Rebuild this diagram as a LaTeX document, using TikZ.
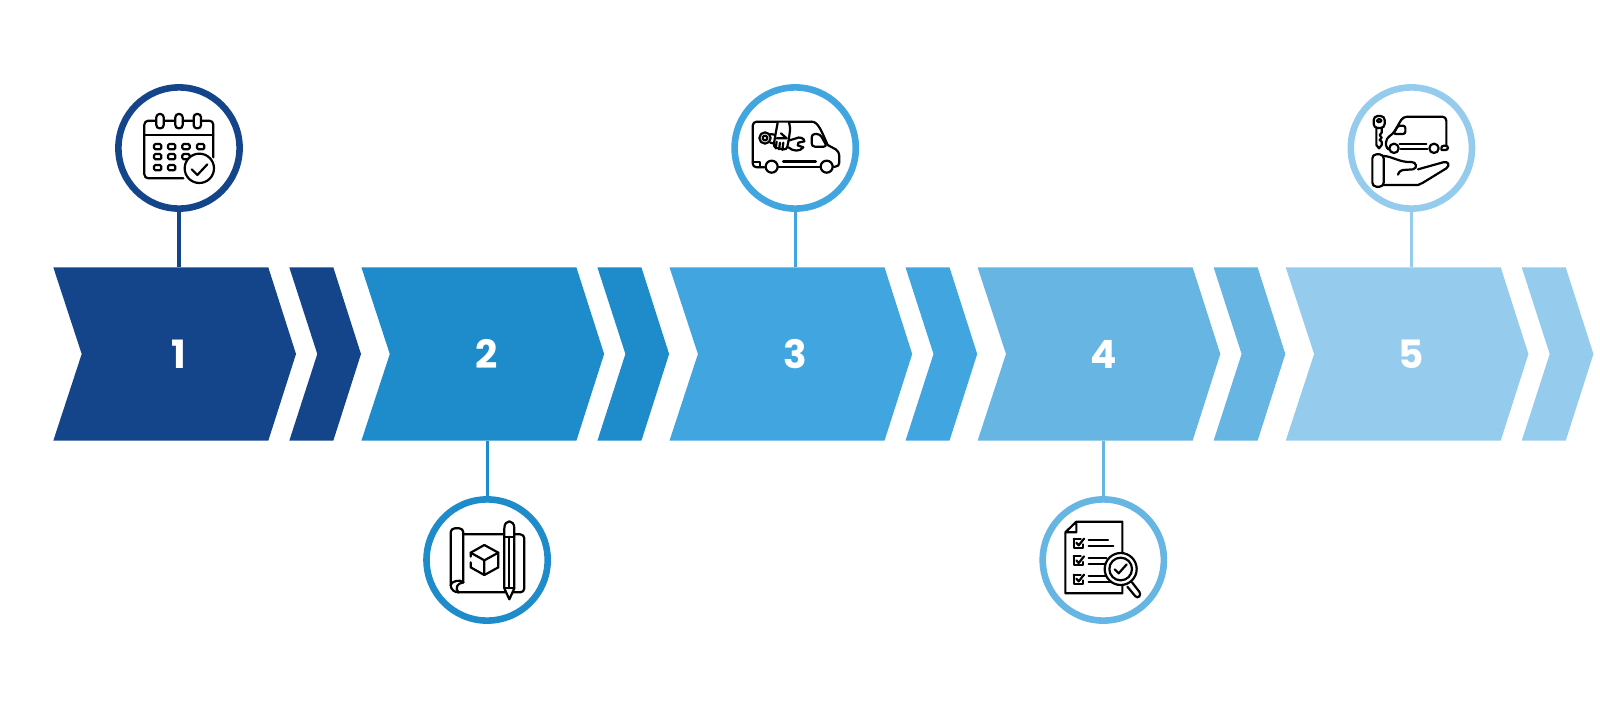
\documentclass[tikz,border=0pt]{standalone}
\usepackage{fontspec}
\newfontfamily\numfont[Scale=1]{Poppins}
\definecolor{stepA}{HTML}{14458B}
\definecolor{stepB}{HTML}{1E8BCB}
\definecolor{stepC}{HTML}{41A6E0}
\definecolor{stepD}{HTML}{66B5E2}
\definecolor{stepE}{HTML}{95CCEE}
\tikzset{
  badge/.style={circle,draw=#1,fill=white,line width=3.3pt,minimum size=60.6pt,inner sep=0pt},
  stem/.style={draw=#1,line width=1.6pt},
  number/.style={text=white,font=\numfont\bfseries\fontsize{19.5}{19.5}\selectfont,inner sep=0pt},
  icon/.style={shift={#1},x=0.16667pt,y=-0.16667pt,line width=1.1pt,line join=round,line cap=round}
}
\begin{document}
\begin{tikzpicture}[x=0.5pt,y=-0.5pt]
  \useasboundingbox (0,0) rectangle (1600,712);
  % chevrons, numbers and top or bottom anchors
  \foreach \i/\col/\xs/\yc in {1/stepA/0/267.3,2/stepB/308.1/440.7,3/stepC/616.2/267.3,4/stepD/924.3/440.7,5/stepE/1232.4/267.3}{
    \fill[\col] (53.3+\xs,267.3)--(268.3+\xs,267.3)--(296+\xs,354)--(268.3+\xs,440.7)--(53.3+\xs,440.7)--(81.7+\xs,354)--cycle;
    \fill[\col] (289.3+\xs,267.3)--(333.3+\xs,267.3)--(361+\xs,354)--(333.3+\xs,440.7)--(289.3+\xs,440.7)--(317.3+\xs,354)--cycle;
    \node[number] (num\i) at (179+\xs,354) {\i};
    \coordinate (edge\i) at (179+\xs,\yc);
  }
  % circles
  \node[badge=stepA] (badgeA) at (179,148) {};
  \node[badge=stepB] (badgeB) at (487.1,560) {};
  \node[badge=stepC] (badgeC) at (795.2,148) {};
  \node[badge=stepD] (badgeD) at (1103.3,560) {};
  \node[badge=stepE] (badgeE) at (1411.4,148) {};
  \draw[stem=stepA] (badgeA)--(edge1);
  \draw[stem=stepB] (badgeB)--(edge2);
  \draw[stem=stepC] (badgeC)--(edge3);
  \draw[stem=stepD] (badgeD)--(edge4);
  \draw[stem=stepE] (badgeE)--(edge5);
  % calendar
  \begin{scope}[icon={(100,70)}]
    \draw[rounded corners=2pt] (250,325)--(133,325)--(133,152)--(340,152)--(340,262);
    \draw (133,195)--(340,195);
    \foreach \rx in {180,237,292}
      \draw[fill=white,rounded corners=1.6pt] (\rx-11,132) rectangle (\rx+11,175);
    \foreach \gx/\gy in {173/230,215/230,258/230,302/230,173/260,215/260,258/260,173/293,215/293}
      \draw[rounded corners=0.7pt] (\gx-11,\gy-8) rectangle (\gx+11,\gy+8);
    \draw[fill=white] (298,295) circle (44);
    \draw (275,298)--(292,315)--(322,283);
  \end{scope}
  % blueprint
  \begin{scope}[icon={(405,475)}]
    \draw[rounded corners=2pt] (175,178)--(358,178)--(358,352)--(160,352);
    \draw[rounded corners=2pt] (137,330)--(137,160)--(175,160)--(175,322);
    \draw (137,330) .. controls (137,345) and (150,352) .. (160,352);
    \draw (137,330) .. controls (140,318) and (165,312) .. (175,322);
    \draw (160,352) .. controls (150,340) and (155,325) .. (175,322);
    \draw (238,210)--(280,233)--(280,277)--(238,300)--(197,277)--(197,262);
    \draw (197,245)--(197,233)--(238,210);
    \draw (197,233)--(238,256)--(280,233) (238,256)--(238,300);
    \draw[fill=white] (298,185)--(298,160) .. controls (298,132) and (328,132) .. (328,160)--(328,340)--(313,373)--(298,340)--cycle;
    \draw (298,185)--(328,185) (298,340)--(328,340) (313,185)--(313,340);
  \end{scope}
  % van with hand and spanner
  \begin{scope}[icon={(705,70)}]
    \draw[rounded corners=2pt] (178,292)--(143,292)--(143,155)--(320,155);
    \draw (320,155) .. controls (340,155) and (350,185) .. (368,225)--(392,238);
    \draw[rounded corners=2pt] (392,238)--(403,245)--(403,290)--(385,290);
    \draw (222,292)--(345,292);
    \draw[line width=1.4pt] (235,274)--(332,274);
    \draw[rounded corners=1.6pt] (320,192)--(345,192)--(366,230)--(320,230)--cycle;
    \draw (143,275)--(165,275)--(165,292);
    \draw[fill=white] (200,290) circle (18);
    \draw[fill=white] (365,290) circle (18);
    \draw (180,204) circle (17) (180,204) circle (7);
    \draw (197,192)--(212,195) (196,218)--(205,220);
    \draw (250,212)--(270,206) .. controls (285,198) and (298,205) .. (298,214);
    \draw (298,214)--(280,218)--(278,226)--(295,232) .. controls (285,245) and (265,245) .. (250,232);
    \draw[fill=white,rounded corners=1.6pt] (218,158)--(212,190)--(205,232)--(245,240)--(252,205)--(256,172)--(252,158);
    \draw (215,215)--(212,235) (225,218)--(222,238) (235,218)--(232,240);
    \draw (228,190)--(245,205)--(215,205);
  \end{scope}
  % document and magnifier
  \begin{scope}[icon={(1008,475)}]
    \draw (205,140)--(343,140)--(343,235) (343,322)--(343,355)--(172,355)--(172,172)--(205,140)--(205,172)--(172,172);
    \foreach \cy in {205,258,313}{
      \draw (197,\cy-14)--(197,\cy+13)--(224,\cy+13)--(224,\cy+3);
      \draw (197,\cy-14)--(218,\cy-14);
      \draw (205,\cy-2)--(212,\cy+6)--(228,\cy-14);
    }
    \draw (242,195)--(300,195) (242,212)--(316,212) (242,250)--(295,250) (242,267)--(292,267) (242,304)--(295,304) (242,321)--(310,321);
    \draw[fill=white] (338,282) circle (48) (338,282) circle (34);
    \draw (320,283)--(332,295)--(356,268);
    \draw[rounded corners=1.6pt] (372,322)--(400,358)--(388,371)--(358,335);
  \end{scope}
  % key, van and open hand
  \begin{scope}[icon={(1308,70)}]
    \draw[rounded corners=2pt] (197,138)--(230,138)--(230,174)--(197,174)--cycle;
    \draw[rounded corners=0.6pt] (207,148) rectangle (220,156);
    \draw (205,174)--(205,225)--(213,235)--(221,225)--(221,215)--(215,210)--(221,203)--(215,195)--(221,188)--(221,174);
    \draw[rounded corners=2pt] (240,238)--(234,238)--(234,205)--(255,192)--(285,140)--(415,140)--(415,227);
    \draw (278,238)--(358,238) (275,223)--(355,223);
    \draw[rounded corners=1.2pt] (270,167)--(292,167)--(292,192)--(256,192)--cycle;
    \draw[fill=white] (258,235) circle (14);
    \draw[fill=white] (378,235) circle (14);
    \draw[rounded corners=1.2pt] (400,238)--(400,227)--(420,227)--(420,240)--(400,240);
    \draw[rounded corners=2pt] (193,253)--(227,253)--(227,350)--(193,350)--cycle;
    \draw (227,258) .. controls (250,258) and (275,278) .. (310,276) .. controls (325,275) and (330,295) .. (315,298)--(285,300) .. controls (275,302) and (270,310) .. (270,314);
    \draw (227,345)--(330,345)--(345,338)--(415,295) .. controls (428,285) and (420,272) .. (405,277)--(330,298);
  \end{scope}
\end{tikzpicture}
\end{document}
